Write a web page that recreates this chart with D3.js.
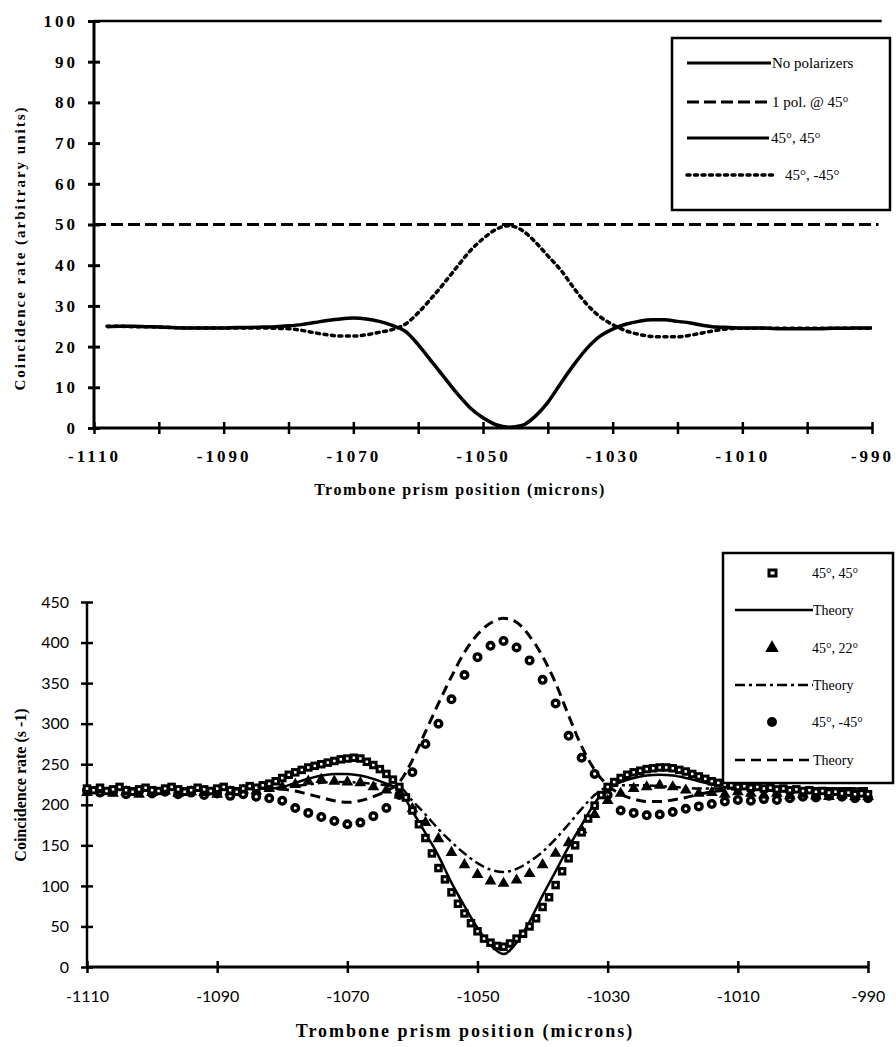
<!DOCTYPE html>
<html><head><meta charset="utf-8">
<script src="https://cdn.jsdelivr.net/npm/d3@7"></script>
<style>body{margin:0;background:#fff}svg{display:block}</style>
</head><body>
<svg id="c" width="896" height="1047"></svg>
<script>
// ---------- TOP CHART DATA ----------
const topTicksY = [0,10,20,30,40,50,60,70,80,90,100];
const topTicksX = [-1110,-1100,-1090,-1080,-1070,-1060,-1050,-1040,-1030,-1020,-1010,-1000,-990];
const topLabelsX = [-1110,-1090,-1070,-1050,-1030,-1010,-990];
const topLegend = ["No polarizers","1 pol. @ 45°","45°, 45°","45°, -45°"];
const topFlatPos = [-1110,-988.5];
const topNoPol = [100,100];
const topOnePolPos = [-1110,-989];
const topOnePol = [50,50];
const topPos = [
-1108,-1106,-1104,-1102,-1100,-1098,-1096,-1094,-1092,-1090,
-1088,-1086,-1084,-1082,-1080,-1078,-1076,-1074,-1072,-1070,
-1068,-1066,-1064,-1062,-1060,-1058,-1056,-1054,-1052,-1050,
-1048,-1046,-1044,-1042,-1040,-1038,-1036,-1034,-1032,-1030,
-1028,-1026,-1024,-1022,-1020,-1018,-1016,-1014,-1012,-1010,
-1008,-1006,-1004,-1002,-1000,-998,-996,-994,-992,-990];
const top45_45 = [
24.9,25,25,24.9,24.8,24.7,24.6,24.6,24.6,24.6,
24.7,24.7,24.8,24.9,25.1,25.4,25.9,26.4,26.8,27.0,
26.8,26.2,25.2,23.8,20.5,16.5,12.5,8.5,5.0,2.5,
0.8,0.2,0.6,2.8,6.3,11.0,15.5,19.5,22.5,24.3,
25.5,26.2,26.6,26.6,26.2,25.8,25.2,24.8,24.7,24.6,
24.6,24.5,24.4,24.4,24.4,24.4,24.5,24.5,24.6,24.6];
const top45_m45 = [
25,25,24.9,24.9,24.8,24.7,24.6,24.6,24.6,24.6,
24.6,24.6,24.6,24.5,24.4,24.0,23.4,22.9,22.6,22.6,
22.9,23.5,24.2,25.5,28.3,31.8,35.6,39.6,43.5,46.5,
48.8,49.7,48.6,45.8,42.3,38.8,34.4,30.4,27.4,25.4,
23.9,23.0,22.5,22.4,22.4,22.8,23.4,24.0,24.4,24.5,
24.5,24.5,24.5,24.5,24.5,24.5,24.5,24.5,24.5,24.5];

// ---------- BOTTOM CHART DATA ----------
const botTicksY = [0,50,100,150,200,250,300,350,400,450];
const botTicksX = [-1110,-1090,-1070,-1050,-1030,-1010,-990];
const botLegend = ["45°, 45°","Theory","45°, 22°","Theory","45°, -45°","Theory"];
const posStep1 = [
-1110,-1109,-1108,-1107,-1106,-1105,-1104,-1103,-1102,-1101,
-1100,-1099,-1098,-1097,-1096,-1095,-1094,-1093,-1092,-1091,
-1090,-1089,-1088,-1087,-1086,-1085,-1084,-1083,-1082,-1081,
-1080,-1079,-1078,-1077,-1076,-1075,-1074,-1073,-1072,-1071,
-1070,-1069,-1068,-1067,-1066,-1065,-1064,-1063,-1062,-1061,
-1060,-1059,-1058,-1057,-1056,-1055,-1054,-1053,-1052,-1051,
-1050,-1049,-1048,-1047,-1046,-1045,-1044,-1043,-1042,-1041,
-1040,-1039,-1038,-1037,-1036,-1035,-1034,-1033,-1032,-1031,
-1030,-1029,-1028,-1027,-1026,-1025,-1024,-1023,-1022,-1021,
-1020,-1019,-1018,-1017,-1016,-1015,-1014,-1013,-1012,-1011,
-1010,-1009,-1008,-1007,-1006,-1005,-1004,-1003,-1002,-1001,
-1000,-999,-998,-997,-996,-995,-994,-993,-992,-991,-990];
const data45_45 = [
220,218,221,217,219,222,218,216,219,221,
218,217,220,222,219,216,218,221,219,217,
220,222,218,216,220,223,221,224,226,229,
233,237,240,243,246,248,250,252,254,256,
257,258,257,253,249,244,238,231,222,209,
193,176,159,140,122,108,92,78,66,54,
44,35,30,26,25,29,35,41,50,60,
74,86,101,118,134,150,166,183,199,212,
222,228,233,237,240,242,244,245,246,246,
245,243,241,238,235,232,229,227,225,224,
222,223,221,222,220,221,219,220,218,219,
217,218,216,217,215,216,214,215,213,214,213];
const posStep2 = [
-1110,-1108,-1106,-1104,-1102,-1100,-1098,-1096,-1094,-1092,
-1090,-1088,-1086,-1084,-1082,-1080,-1078,-1076,-1074,-1072,
-1070,-1068,-1066,-1064,-1062,-1060,-1058,-1056,-1054,-1052,
-1050,-1048,-1046,-1044,-1042,-1040,-1038,-1036,-1034,-1032,
-1030,-1028,-1026,-1024,-1022,-1020,-1018,-1016,-1014,-1012,
-1010,-1008,-1006,-1004,-1002,-1000,-998,-996,-994,-992,-990];
const data45_22 = [
215,218,214,216,213,215,217,214,216,215,
213,216,218,217,220,222,225,229,231,229,
228,227,222,218,212,195,178,158,141,126,
114,106,103,107,115,126,140,153,169,188,
205,214,220,222,224,222,218,214,215,213,
216,214,212,214,211,213,211,210,212,210,210];
const data45_m45 = [
218,215,216,213,217,214,216,213,215,212,
214,211,213,210,208,205,196,190,185,180,
176,178,186,196,212,240,275,300,330,360,
382,396,402,394,378,354,325,285,258,238,
212,193,190,187,188,191,195,198,201,204,
206,205,207,206,208,210,209,211,210,208,208];
const theory45_45 = [
220,220,220,220,220,220,220,220,220,220,
220,220,220,220,220,222,227,232,236,238,
238,236,232,226,218,192,165,137,104,75,
48,27,16,30,56,88,118,148,175,202,
220,228,233,236,237,236,233,229,225,222,
220,220,220,220,220,220,220,220,220,220,220];
const theory45_22 = [
220,220,220,220,220,220,220,220,220,220,
220,220,220,220,220,221,223,225,227,228,
228,227,226,224,222,205,188,170,154,140,
128,120,117,121,130,142,158,176,195,212,
222,224,224,224,223,222,221,220,220,220,
220,220,220,220,220,220,220,220,220,220,220];
const theory45_m45 = [
220,220,220,220,220,220,220,220,220,220,
220,220,220,220,220,219,217,213,209,205,
203,205,210,217,228,255,290,325,358,388,
410,424,430,425,408,383,350,310,272,243,
224,213,207,204,204,206,209,213,216,218,
220,220,220,220,220,220,220,220,220,220,220];

// ---------- DRAW ----------
const svg = d3.select("#c");
const SERIF = "'Liberation Serif','Times New Roman',serif";

// ===== TOP =====
const xT = d3.scaleLinear().domain([-1110,-990]).range([94,872]);
const yT = d3.scaleLinear().domain([0,100]).range([428,21]);
const gT = svg.append("g");

const lineT = (xs) => d3.line().x((d,i)=>xT(xs[i])).y(d=>yT(d)).curve(d3.curveMonotoneX);

// Y axis
const yAxT = gT.append("g").attr("transform","translate(94,0)")
  .call(d3.axisLeft(yT).tickValues(topTicksY).tickSize(6).tickPadding(10).tickFormat(d=>String(d)));
yAxT.select(".domain").attr("stroke-width",3).attr("d",`M0,${yT(100)}V${yT(0)}`);
yAxT.selectAll(".tick line").attr("x1",6).attr("x2",-6).attr("stroke-width",3);
yAxT.selectAll(".tick text").attr("font-family",SERIF).attr("font-weight","bold")
  .attr("font-size",17).attr("letter-spacing","3px").attr("fill","#000");

// X axis
const xAxT = gT.append("g").attr("transform","translate(0,428)")
  .call(d3.axisBottom(xT).tickValues(topTicksX).tickSize(6).tickPadding(16)
    .tickFormat(d=>topLabelsX.includes(d)?String(d):""));
xAxT.select(".domain").attr("stroke-width",3).attr("d",`M${xT(-1110)},0H${xT(-990)}`);
xAxT.selectAll(".tick line").attr("y1",-6).attr("y2",6).attr("stroke-width",2.5);
xAxT.selectAll(".tick text").attr("font-family",SERIF).attr("font-weight","bold")
  .attr("font-size",17).attr("letter-spacing","3px").attr("fill","#000");

// series
gT.append("path").datum(topNoPol).attr("d",lineT(topFlatPos))
  .attr("fill","none").attr("stroke","#000").attr("stroke-width",2.5);
gT.append("path").datum(topOnePol).attr("d",lineT(topOnePolPos))
  .attr("fill","none").attr("stroke","#000").attr("stroke-width",3).attr("stroke-dasharray","12,5");
gT.append("path").datum(top45_m45).attr("d",lineT(topPos))
  .attr("fill","none").attr("stroke","#000").attr("stroke-width",3.5)
  .attr("stroke-dasharray","3,4.5").attr("stroke-linecap","round");
gT.append("path").datum(top45_45).attr("d",lineT(topPos))
  .attr("fill","none").attr("stroke","#000").attr("stroke-width",3.5);

// labels
gT.append("text").attr("transform",`translate(25,248) rotate(-90)`)
  .attr("text-anchor","middle").attr("font-family",SERIF).attr("font-weight","bold")
  .attr("font-size",15).attr("letter-spacing","2px").text("Coincidence rate (arbitrary units)");
gT.append("text").attr("x",460).attr("y",495).attr("text-anchor","middle")
  .attr("font-family",SERIF).attr("font-weight","bold").attr("font-size",16)
  .attr("letter-spacing","1.5px").text("Trombone prism position (microns)");

// legend
gT.append("rect").attr("x",672).attr("y",38).attr("width",218).attr("height",172)
  .attr("fill","#fff").attr("stroke","#000").attr("stroke-width",2.5);
const tLegY = [63,102,138,175];
const tLegDash = [null,"12,5",null,"3,4.5"];
const tLegEnd = [771,771,769,776];
const tLegTx = [772,772,771,785];
topLegend.forEach((t,i)=>{
  gT.append("line").attr("x1",687).attr("x2",tLegEnd[i]).attr("y1",tLegY[i]).attr("y2",tLegY[i])
    .attr("stroke","#000").attr("stroke-width",i===3?3.5:3)
    .attr("stroke-dasharray",tLegDash[i]).attr("stroke-linecap",i===3?"round":"butt");
  gT.append("text").attr("x",tLegTx[i]).attr("y",tLegY[i]+5).attr("font-family",SERIF)
    .attr("font-size",15).text(t);
});

// ===== BOTTOM =====
const xB = d3.scaleLinear().domain([-1110,-990]).range([87,868]);
const yB = d3.scaleLinear().domain([0,450]).range([967,602]);
const gB = svg.append("g");
const SANS = "Lato,'Open Sans',sans-serif";

const yAxB = gB.append("g").attr("transform","translate(87,0)")
  .call(d3.axisLeft(yB).tickValues(botTicksY).tickSize(6).tickPadding(12).tickFormat(d=>String(d)));
yAxB.select(".domain").attr("stroke-width",2.5).attr("d",`M0,${yB(450)}V${yB(0)}`);
yAxB.selectAll(".tick line").attr("x1",6).attr("x2",-6).attr("stroke-width",2.5);
yAxB.selectAll(".tick text").attr("font-family",SANS).attr("font-size",16).attr("fill","#000");

const xAxB = gB.append("g").attr("transform","translate(0,967)")
  .call(d3.axisBottom(xB).tickValues(botTicksX).tickSize(6).tickPadding(18).tickFormat(d=>String(d)));
xAxB.select(".domain").attr("stroke-width",3).attr("d",`M${xB(-1110)},0H${xB(-990)}`);
xAxB.selectAll(".tick line").attr("y1",-6).attr("y2",6).attr("stroke-width",2.5);
xAxB.selectAll(".tick text").attr("font-family",SANS).attr("font-size",16).attr("fill","#000");

const lineB = (xs) => d3.line().x((d,i)=>xB(xs[i])).y(d=>yB(d)).curve(d3.curveMonotoneX);

gB.append("path").datum(theory45_m45).attr("d",lineB(posStep2)).attr("fill","none")
  .attr("stroke","#000").attr("stroke-width",3).attr("stroke-dasharray","10,6");
gB.append("path").datum(theory45_22).attr("d",lineB(posStep2)).attr("fill","none")
  .attr("stroke","#000").attr("stroke-width",2.5).attr("stroke-dasharray","10,4,3,4");
gB.append("path").datum(theory45_45).attr("d",lineB(posStep2)).attr("fill","none")
  .attr("stroke","#000").attr("stroke-width",2.5);

const tri = d3.symbol().type(d3.symbolTriangle).size(60);
// circles
gB.append("g").selectAll("circle").data(data45_m45).join("circle")
  .attr("cx",(d,i)=>xB(posStep2[i])).attr("cy",d=>yB(d)).attr("r",3.3)
  .attr("fill","#fff").attr("stroke","#000").attr("stroke-width",3.4);
// triangles
gB.append("g").selectAll("path").data(data45_22).join("path")
  .attr("d",tri).attr("transform",(d,i)=>`translate(${xB(posStep2[i])},${yB(d)})`).attr("fill","#000");
// squares
gB.append("g").selectAll("rect").data(data45_45).join("rect")
  .attr("x",(d,i)=>xB(posStep1[i])-2.75).attr("y",d=>yB(d)-2.75).attr("width",5.5).attr("height",5.5)
  .attr("fill","#fff").attr("stroke","#000").attr("stroke-width",3);

gB.append("text").attr("transform",`translate(26,785) rotate(-90)`)
  .attr("text-anchor","middle").attr("font-family",SERIF).attr("font-weight","bold")
  .attr("font-size",16).text("Coincidence rate (s -1)");
gB.append("text").attr("x",465).attr("y",1037).attr("text-anchor","middle")
  .attr("font-family",SERIF).attr("font-weight","bold").attr("font-size",18)
  .attr("letter-spacing","2px").text("Trombone prism position (microns)");

// legend
gB.append("rect").attr("x",723).attr("y",553).attr("width",170).attr("height",230)
  .attr("fill","#fff").attr("stroke","#000").attr("stroke-width",2.5);
const bLegY = [573,610,648,685,722,760];
botLegend.forEach((t,i)=>{
  const y = bLegY[i];
  if(i===0){
    gB.append("rect").attr("x",769).attr("y",y-3).attr("width",7).attr("height",6)
      .attr("fill","#fff").attr("stroke","#000").attr("stroke-width",3);
  } else if(i===2){
    gB.append("path").attr("d",d3.symbol().type(d3.symbolTriangle).size(80))
      .attr("transform",`translate(772,${y})`).attr("fill","#000");
  } else if(i===4){
    gB.append("circle").attr("cx",772).attr("cy",y).attr("r",5).attr("fill","#000");
  } else {
    gB.append("line").attr("x1",735).attr("x2",813).attr("y1",y).attr("y2",y)
      .attr("stroke","#000").attr("stroke-width",2.5)
      .attr("stroke-dasharray",i===1?null:(i===3?"10,4,3,4":"10,6"));
  }
  gB.append("text").attr("x",i%2===0?812:813).attr("y",y+5).attr("font-family",SERIF)
    .attr("font-size",14).text(t);
});
</script>
</body></html>
